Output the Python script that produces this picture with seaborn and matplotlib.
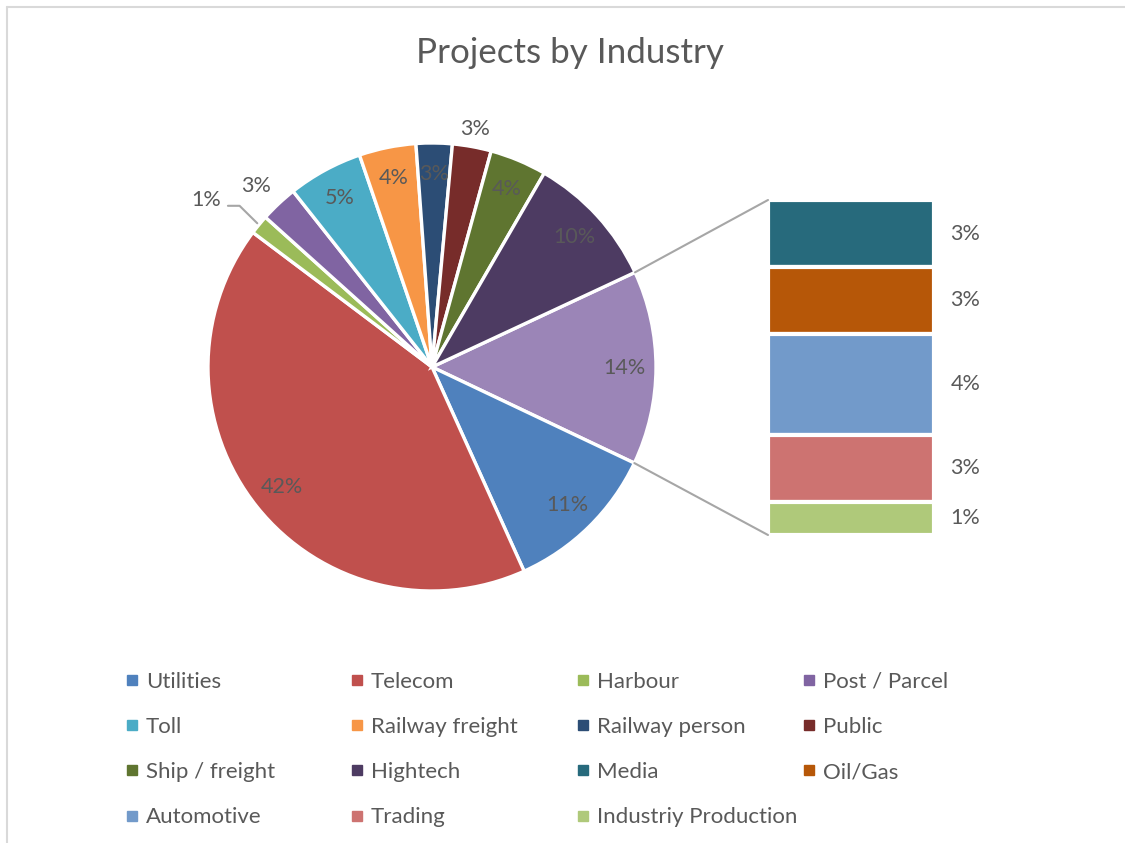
import numpy as np
import pandas as pd
import matplotlib
matplotlib.use("Agg")
import matplotlib.pyplot as plt
import matplotlib.transforms as mtransforms
from matplotlib.patches import ConnectionPatch
from matplotlib.lines import Line2D
import seaborn as sns

# ---------------- data ----------------
pie_labels = ["Other", "Utilities", "Telecom", "Harbour", "Post / Parcel", "Toll",
              "Railway freight", "Railway person", "Public", "Ship / freight", "Hightech"]
pie_values = [14.0, 11.2, 42.0, 1.4, 2.7, 5.4, 4.1, 2.6, 2.8, 4.1, 9.7]

bar_labels = ["Media", "Oil/Gas", "Automotive", "Trading", "Industriy Production"]
bar_values = [2.8, 2.8, 4.2, 2.8, 1.4]

colors = {
    "Other": "#9B85B7",
    "Utilities": "#4F81BD", "Telecom": "#C0504D", "Harbour": "#9BBB59",
    "Post / Parcel": "#8064A2", "Toll": "#4BACC6", "Railway freight": "#F79646",
    "Railway person": "#2C4D75", "Public": "#772C2A", "Ship / freight": "#5F7530",
    "Hightech": "#4D3B62", "Media": "#276A7C", "Oil/Gas": "#B65708",
    "Automotive": "#729ACA", "Trading": "#CD7371", "Industriy Production": "#AFC97A",
}

legend_columns = [
    ["Utilities", "Toll", "Ship / freight", "Automotive"],
    ["Telecom", "Railway freight", "Hightech", "Trading"],
    ["Harbour", "Railway person", "Media", "Industriy Production"],
    ["Post / Parcel", "Public", "Oil/Gas"],
]

title = "Projects by Industry"

# ---------------- style ----------------
sns.set_theme(style="white")
plt.rcParams["font.family"] = ["Lato", "DejaVu Sans"]
TXT = "#595959"

W, H = 1125, 843
fig = plt.figure(figsize=(W / 100, H / 100), dpi=100)
fig.patch.set_facecolor("white")

# chart-area border (top and left visible)
fig.add_artist(Line2D([6.5 / W, 6.5 / W], [0, 1 - 6.5 / H], transform=fig.transFigure,
                      color="#D9D9D9", lw=1.5))
fig.add_artist(Line2D([6.5 / W, 1], [1 - 6.5 / H, 1 - 6.5 / H], transform=fig.transFigure,
                      color="#D9D9D9", lw=1.5))

fig.text(570 / W, 1 - 53 / H, title, ha="center", va="center", fontsize=25.2, color=TXT)

# ---------------- pie ----------------
cx, cy, R = 432, 367, 224
ax_pie = fig.add_axes([(cx - R) / W, (H - cy - R) / H, 2 * R / W, 2 * R / H])
wedges, _ = ax_pie.pie(pie_values, colors=[colors[l] for l in pie_labels],
                       startangle=25, counterclock=False, radius=1,
                       wedgeprops=dict(edgecolor="white", linewidth=2.4))
ax_pie.set_xlim(-1, 1)
ax_pie.set_ylim(-1, 1)
ax_pie.axis("off")

LBL = 15.5
outside_r = {"Public": 1.08, "Post / Parcel": 1.125}
for w, lab, v in zip(wedges, pie_labels, pie_values):
    ang = np.deg2rad((w.theta1 + w.theta2) / 2)
    txt = f"{v:.0f}%"
    if lab == "Harbour":
        p0 = np.array([1.01 * np.cos(ang), 1.01 * np.sin(ang)])
        p1 = p0 + np.array([-0.079, 0.078])
        p2 = p1 + np.array([-0.052, 0.0])
        ax_pie.plot([p0[0], p1[0], p2[0]], [p0[1], p1[1], p2[1]], color="#A6A6A6",
                    lw=1.5, clip_on=False)
        ax_pie.text(p2[0] - 0.03, p2[1] + 0.025, txt, ha="right", va="center",
                    fontsize=LBL, color=TXT)
        continue
    r = outside_r.get(lab, 0.86)
    if lab == "Post / Parcel":
        ang += np.deg2rad(1.0)
    ax_pie.text(r * np.cos(ang), r * np.sin(ang), txt, ha="center", va="center",
                fontsize=LBL, color=TXT)

# ---------------- bar of pie ----------------
ax_bar = fig.add_axes([768 / W, (H - 535) / H, 166 / W, 335 / H])
tot = sum(bar_values)
bottoms = np.concatenate([[0], np.cumsum(bar_values)[:-1]])
ax_bar.bar(np.zeros(len(bar_values)), bar_values, bottom=bottoms, width=1,
           color=[colors[l] for l in bar_labels], edgecolor="white", linewidth=3)
ax_bar.set_xlim(-0.5, 0.5)
ax_bar.set_ylim(tot, 0)
ax_bar.axis("off")
trans = mtransforms.blended_transform_factory(ax_bar.transAxes, ax_bar.transData)
for b, v in zip(bottoms, bar_values):
    ax_bar.text(1.1, b + v / 2, f"{v:.0f}%", transform=trans,
                ha="left", va="center", fontsize=LBL, color=TXT)

# connector lines
a_top = np.deg2rad(wedges[0].theta2)
a_bot = np.deg2rad(wedges[0].theta1)
for ang, yb in [(a_top, 1), (a_bot, 0)]:
    con = ConnectionPatch(xyA=(np.cos(ang), np.sin(ang)), coordsA=ax_pie.transData,
                          xyB=(0, yb), coordsB=ax_bar.transAxes,
                          color="#A6A6A6", lw=1.5)
    fig.add_artist(con)

# ---------------- legend ----------------
col_x = [125, 350, 576, 802]
for xs, names in zip(col_x, legend_columns):
    handles = [Line2D([], [], marker="s", linestyle="none", markersize=6.5,
                      color=colors[n]) for n in names]
    fig.legend(handles, names, loc="upper left", bbox_to_anchor=(xs / W, 1 - 672 / H),
               bbox_transform=fig.transFigure, frameon=False, fontsize=16,
               handlelength=0.65, handletextpad=0.3, borderpad=0, borderaxespad=0,
               labelspacing=1.13, labelcolor=TXT)

fig.savefig("out.png", dpi=100, facecolor="white")
